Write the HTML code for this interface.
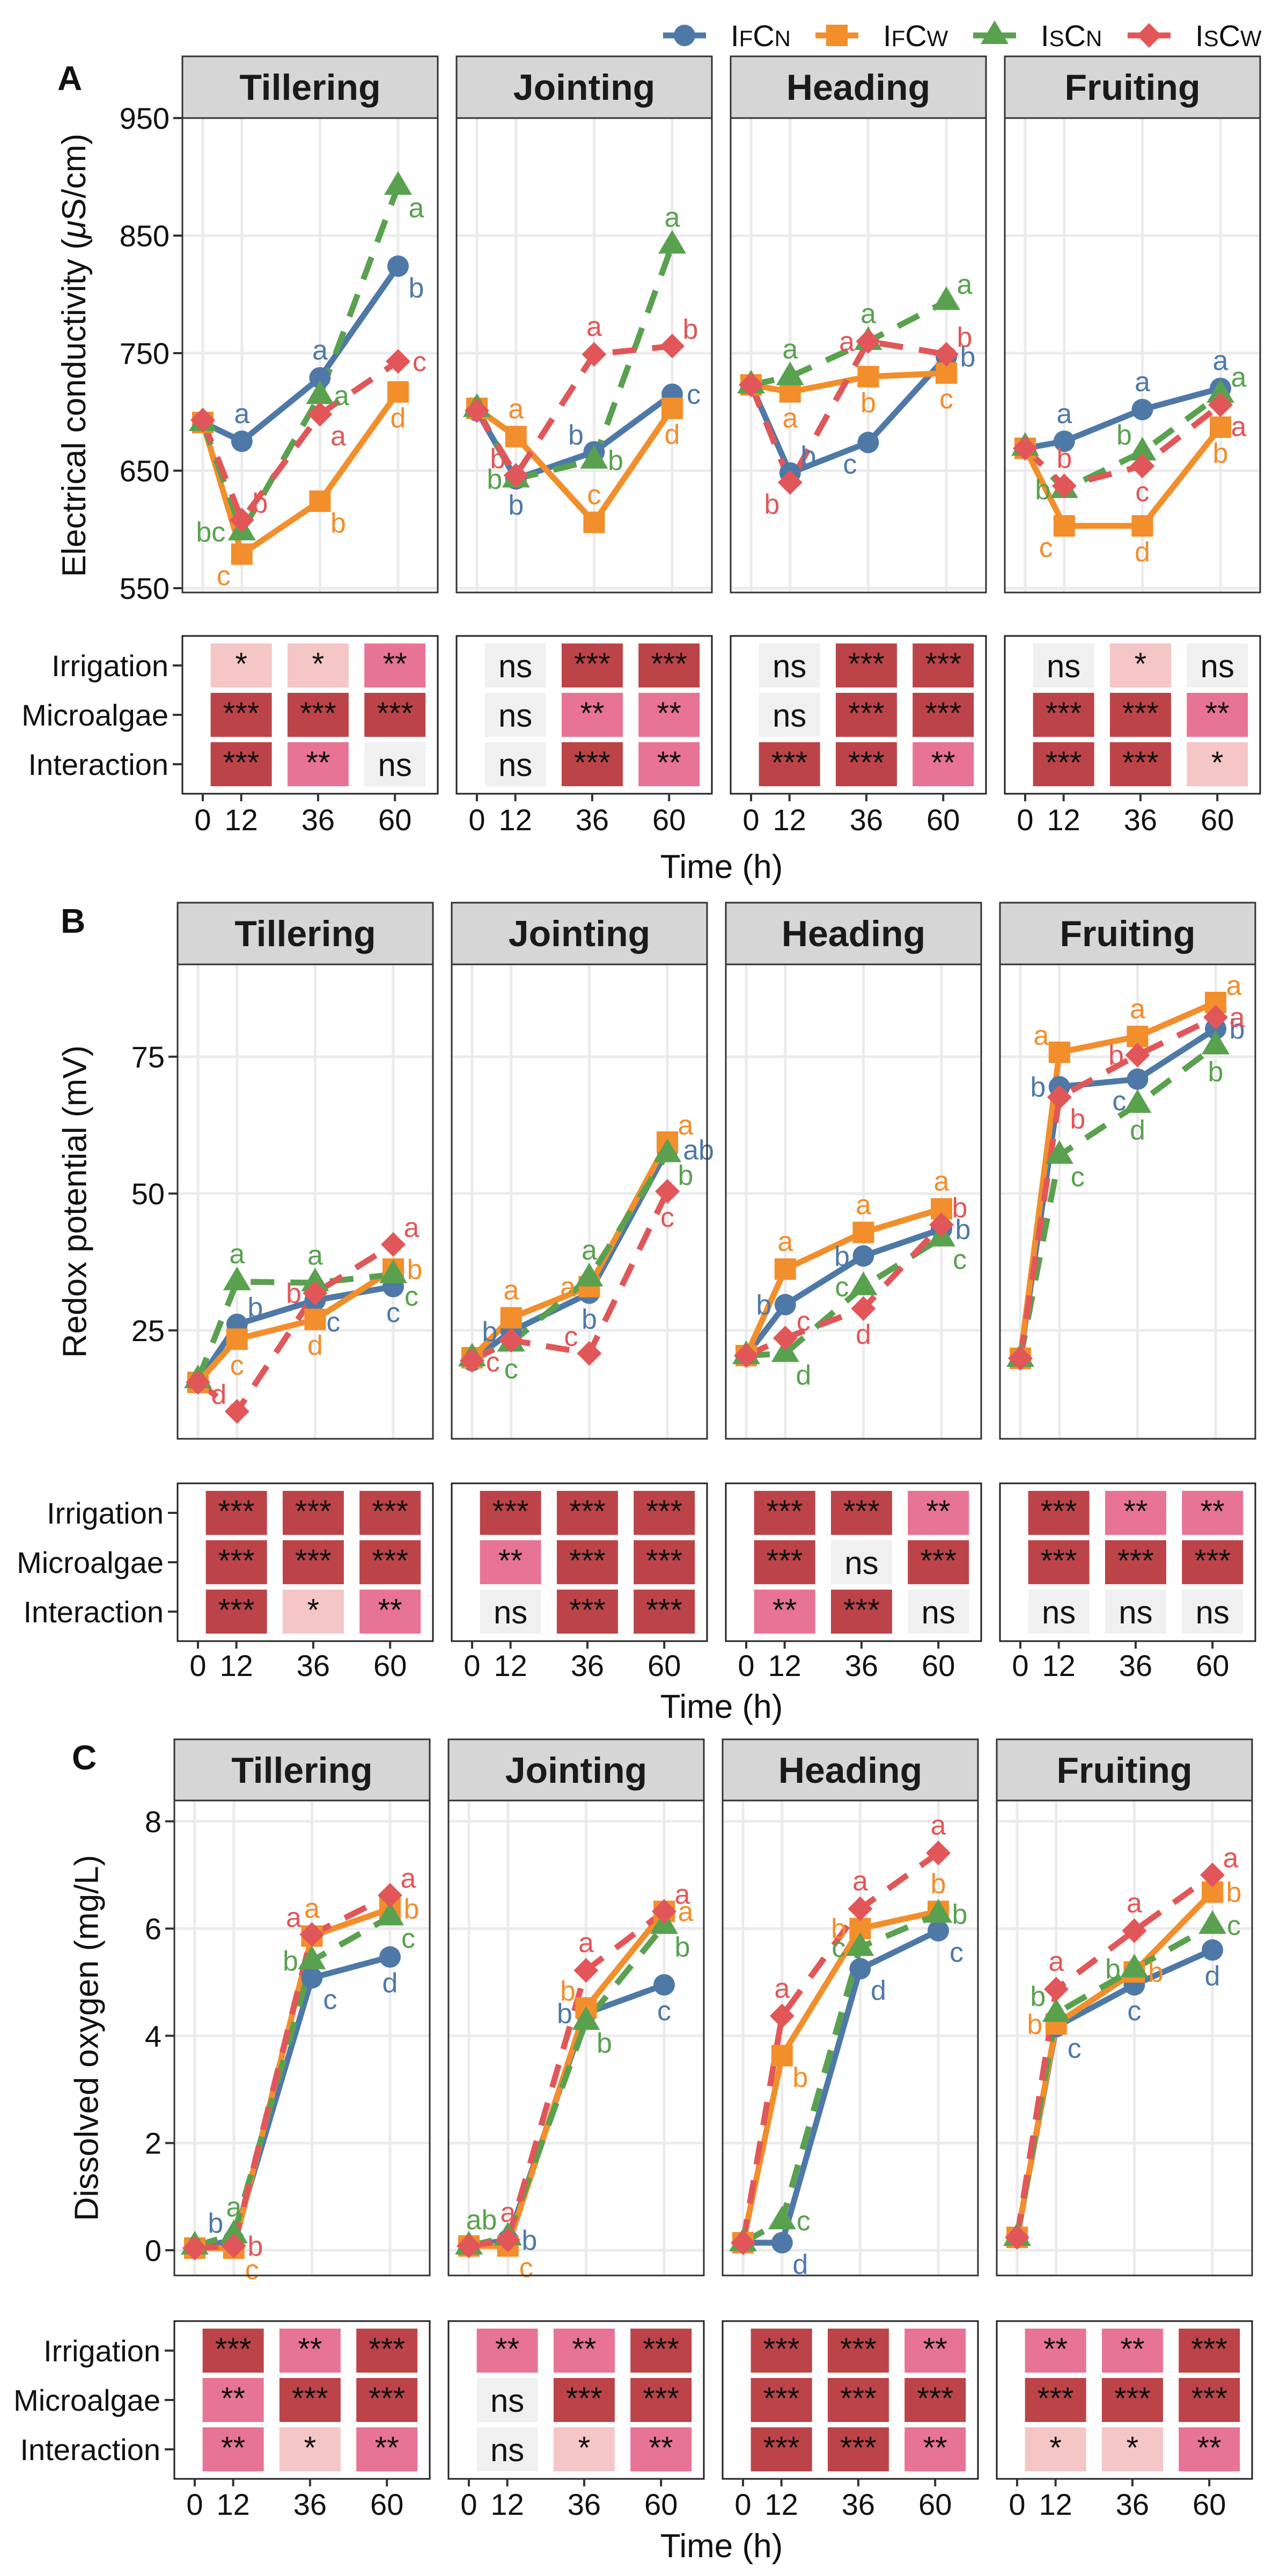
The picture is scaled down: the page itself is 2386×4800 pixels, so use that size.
<!DOCTYPE html>
<html>
<head>
<meta charset="utf-8">
<style>
html,body{margin:0;padding:0;background:#fff;}
svg{display:block;}
text{font-family:"Liberation Sans",Arial,sans-serif;}
</style>
</head>
<body>
<svg id="fig" width="2386" height="4800" viewBox="0 0 2386 4800" xmlns="http://www.w3.org/2000/svg"></svg>
<script>
// ---------- data ----------
const stages = ['Tillering','Jointing','Heading','Fruiting'];
const times = [0,12,36,60];
const seriesNames = ['IFCN','IFCW','ISCN','ISCW'];
const sigRows = ['Irrigation','Microalgae','Interaction'];

// Panel A: electrical conductivity (stage x time)
const ecIFCN = [[691,675,729,824],[701,643,666,715],[723,648,674,747],[669,675,702,720]];
const ecIFCW = [[691,579,624,717],[703,679,606,703],[723,717,730,733],[669,603,603,687]];
const ecISCN = [[691,598,714,892],[703,643,659,842],[723,730,760,794],[670,634,666,715]];
const ecISCW = [[693,608,698,743],[701,646,749,756],[723,640,760,749],[669,637,654,706]];
const ecTicks = [550,650,750,850,950];
const ecLetIFCN = [['a','a','b'],['b','b','c'],['b','c','b'],['a','a','a']];
const ecLetIFCW = [['c','b','d'],['a','c','d'],['a','b','c'],['c','d','b']];
const ecLetISCN = [['bc','a','a'],['b','b','a'],['a','a','a'],['b','b','a']];
const ecLetISCW = [['b','a','c'],['b','a','b'],['b','a','b'],['b','c','a']];
const ecPosIFCN = [['n','n','se'],['s','nw','e'],['ne','sw','e'],['n','n','n']];
const ecPosIFCW = [['sw','se','s'],['n','n','s'],['s','s','s'],['sw','s','s']];
const ecPosISCN = [['w','e','se'],['w','e','n'],['n','n','ne'],['w','nw','ne']];
const ecPosISCW = [['ne','se','e'],['nw','n','ne'],['sw','w','ne'],['n','s','se']];
const ecSig = [
 [['*','*','**'],['***','***','***'],['***','**','ns']],
 [['ns','***','***'],['ns','**','**'],['ns','***','**']],
 [['ns','***','***'],['ns','***','***'],['***','***','**']],
 [['ns','*','ns'],['***','***','**'],['***','***','*']]
];

// Panel B: redox potential
const ehIFCN = [[15.5,26.1,30.5,33],[19.5,24.8,31.8,58],[20.4,29.7,38.6,43.5],[19.9,69.5,70.9,80.1]];
const ehIFCW = [[15.5,23.4,27,36.2],[20,27.3,33,59.4],[20.4,36.2,42.9,47.2],[19.9,75.8,78.7,84.9]];
const ehISCN = [[16,33.9,33.7,35.2],[20,22.7,34.6,57.3],[20.4,20.8,33,41.9],[19.9,57,66.3,77]];
const ehISCW = [[15.5,10.2,31.8,40.7],[19.5,23.2,20.8,50.4],[20.4,23.6,29,44.3],[19.9,67.6,75.3,82.2]];
const ehTicks = [25,50,75];
const ehLetIFCN = [['b','c','c'],['b','b','ab'],['b','b','b'],['b','c','b']];
const ehLetIFCW = [['c','d','b'],['a','a','a'],['a','a','a'],['a','a','a']];
const ehLetISCN = [['a','a','c'],['c','a','b'],['d','c','c'],['c','d','b']];
const ehLetISCW = [['d','b','a'],['c','c','c'],['c','d','b'],['b','b','a']];
const ehPosIFCN = [['ne','se','s'],['w','s','e'],['w','w','e'],['w','sw','e']];
const ehPosIFCW = [['s','s','e'],['n','w','ne'],['n','n','n'],['nw','n','ne']];
const ehPosISCN = [['n','n','se'],['s','n','se'],['se','w','se'],['se','s','s']];
const ehPosISCW = [['nw','w','ne'],['sw','nw','s'],['ne','s','ne'],['se','w','e']];
const ehSig = [
 [['***','***','***'],['***','***','***'],['***','*','**']],
 [['***','***','***'],['**','***','***'],['ns','***','***']],
 [['***','***','**'],['***','ns','***'],['**','***','ns']],
 [['***','**','**'],['***','***','***'],['ns','ns','ns']]
];

// Panel C: dissolved oxygen
const doIFCN = [[0.04,0.19,5.08,5.47],[0.08,0.19,4.42,4.95],[0.14,0.14,5.25,5.96],[0.24,4.17,4.95,5.6]];
const doIFCW = [[0.04,0.04,5.86,6.37],[0.08,0.08,4.52,6.32],[0.14,3.63,6.0,6.32],[0.24,4.22,5.19,6.68]];
const doISCN = [[0.08,0.29,5.4,6.22],[0.08,0.25,4.27,6.06],[0.14,0.55,5.65,6.27],[0.24,4.42,5.25,6.06]];
const doISCW = [[0.04,0.08,5.89,6.62],[0.08,0.19,5.22,6.32],[0.14,4.37,6.37,7.41],[0.24,4.87,5.96,7.0]];
const doTicks = [0,2,4,6,8];
const doLetIFCN = [['b','c','d'],['b','b','c'],['d','d','c'],['c','c','d']];
const doLetIFCW = [['c','a','b'],['c','b','a'],['b','b','b'],['b','b','b']];
const doLetISCN = [['a','b','c'],['ab','b','b'],['c','c','b'],['b','b','c']];
const doLetISCW = [['b','a','a'],['a','a','a'],['a','a','a'],['a','a','a']];
const doPosIFCN = [['nw','se','s'],['e','w','s'],['se','se','se'],['se','s','s']];
const doPosIFCW = [['se','n','e'],['se','nw','e'],['se','w','n'],['w','e','e']];
const doPosISCN = [['n','w','se'],['nw','se','se'],['e','w','e'],['nw','w','e']];
const doPosISCW = [['e','nw','ne'],['n','n','ne'],['n','n','n'],['n','n','ne']];
const doSig = [
 [['***','**','***'],['**','***','***'],['**','*','**']],
 [['**','**','***'],['ns','***','***'],['ns','*','**']],
 [['***','***','**'],['***','***','***'],['***','***','**']],
 [['**','**','***'],['***','***','***'],['*','*','**']]
];

// ---------- styling ----------
const COLORS = ['#4e79a7','#f28e2b','#59a14f','#e15759'];
const DASHED = [false,false,true,true];
const SIGCOL = {'***':'#bc4449','**':'#e77495','*':'#f5c6c6','ns':'#f0f0f0'};
const OFF = {n:[0,-34],s:[0,66],e:[40,18],w:[-40,18],ne:[34,-14],nw:[-34,-14],se:[34,58],sw:[-34,58]};

const NS = 'http://www.w3.org/2000/svg';
const svg = document.getElementById('fig');
function mk(tag, attrs, parent){
  const e = document.createElementNS(NS, tag);
  for (const k in attrs) e.setAttribute(k, attrs[k]);
  (parent||svg).appendChild(e);
  return e;
}

function marker(g, k, cx, cy){
  let e;
  if (k===0){ e = mk('circle',{cx:cx,cy:cy,r:20,fill:COLORS[0]},g); }
  else if (k===1){ e = mk('rect',{x:cx-20,y:cy-20,width:40,height:40,fill:COLORS[1]},g); }
  else if (k===2){ e = mk('polygon',{points:`${cx},${cy-28} ${cx+26},${cy+16} ${cx-26},${cy+16}`,fill:COLORS[2]},g); }
  else { e = mk('polygon',{points:`${cx},${cy-23} ${cx+23},${cy} ${cx},${cy+23} ${cx-23},${cy}`,fill:COLORS[3]},g); }
  return e;
}

const sections = [
  {id:'a', letter:'A', letterX:107, letterY:168, lefts:[340,851,1362,1873], stripTop:105, plotTop:220, plotBottom:1104,
   y:v=>220+(950-v)*2.19, ticks:ecTicks, data:[ecIFCN,ecIFCW,ecISCN,ecISCW], lets:[ecLetIFCN,ecLetIFCW,ecLetISCN,ecLetISCW],
   pos:[ecPosIFCN,ecPosIFCW,ecPosISCN,ecPosISCW], sig:ecSig, tableTop:1185, tickLabY:1547, timeY:1636, titleX:138, title:'ecTitle'},
  {id:'b', letter:'B', letterX:113, letterY:1738, lefts:[331,842,1353,1864], stripTop:1682, plotTop:1797, plotBottom:2681,
   y:v=>2479-(v-25)*10.2, ticks:ehTicks, data:[ehIFCN,ehIFCW,ehISCN,ehISCW], lets:[ehLetIFCN,ehLetIFCW,ehLetISCN,ehLetISCW],
   pos:[ehPosIFCN,ehPosIFCW,ehPosISCN,ehPosISCW], sig:ehSig, tableTop:2764, tickLabY:3123, timeY:3201, titleX:140, title:'Redox potential (mV)'},
  {id:'c', letter:'C', letterX:134, letterY:3297, lefts:[325,836,1347,1858], stripTop:3241, plotTop:3355, plotBottom:4240,
   y:v=>4193-v*99.9, ticks:doTicks, data:[doIFCN,doIFCW,doISCN,doISCW], lets:[doLetIFCN,doLetIFCW,doLetISCN,doLetISCW],
   pos:[doPosIFCN,doPosIFCW,doPosISCN,doPosISCW], sig:doSig, tableTop:4325, tickLabY:4686, timeY:4765, titleX:162, title:'Dissolved oxygen (mg/L)'}
];
const PW = 476;
const X0 = 38, XS = 6.067, TXS = 5.97;

// ---------- legend ----------
const legend = mk('g',{});


const legX = [1236,1520,1814,2102];
const legTxt = [['I','F','C','N'],['I','F','C','W'],['I','S','C','N'],['I','S','C','W']];
seriesNames.forEach((s,k)=>{
  const g = mk('g',{},legend);
  
  
  mk('line',{x1:legX[k],y1:66,x2:legX[k]+80,y2:66,stroke:COLORS[k],'stroke-width':11},g);
  marker(g,k,legX[k]+40,66);
  const t = mk('text',{x:legX[k]+126,y:86,'font-size':56,fill:'#111'},g);
  legTxt[k].forEach((ch,i)=>{
    const sp = mk('tspan',{'font-size': (i%2===0)?56:42},t);
    sp.textContent = ch;
  });
});

// ---------- sections ----------
sections.forEach(sec=>{
  const sg = mk('g',{});
  
  

  const lt = mk('text',{x:sec.letterX,y:sec.letterY,'font-size':64,'font-weight':'bold',fill:'#111'},sg);
  
  
  lt.textContent = sec.letter;

  // y-axis title
  const cy = (sec.plotTop+sec.plotBottom)/2;
  const yt = mk('text',{x:sec.titleX,y:cy,'font-size':62,fill:'#111','text-anchor':'middle','dominant-baseline':'central',transform:`rotate(-90 ${sec.titleX} ${cy})`},sg);
  
  
  if (sec.title==='ecTitle'){
    const a = mk('tspan',{},yt); a.textContent='Electrical conductivity (';
    const b = mk('tspan',{'font-style':'italic'},yt); b.textContent='\u03bc';
    const c = mk('tspan',{},yt); c.textContent='S/cm)';
  } else yt.textContent = sec.title;

  // y tick labels (left panel only)
  const L0 = sec.lefts[0];
  sec.ticks.forEach(v=>{
    const yy = sec.y(v);
    const tk = mk('line',{x1:L0-17,y1:yy,x2:L0,y2:yy,stroke:'#333','stroke-width':4},sg);
    
    
    const tl = mk('text',{x:L0-24,y:yy+20,'font-size':56,fill:'#111','text-anchor':'end'},sg);
    
    
    tl.textContent = v;
  });

  stages.forEach((st,si)=>{
    const L = sec.lefts[si];
    const pg = mk('g',{},sg);
    
    
    const xs = t=>L+X0+t*XS;

    // strip
    const sr = mk('rect',{x:L,y:sec.stripTop,width:PW,height:sec.plotTop-sec.stripTop,fill:'#d6d6d6',stroke:'#333','stroke-width':3},pg);
    
    
    const stx = mk('text',{x:L+PW/2,y:sec.stripTop+81,'font-size':68,'font-weight':'bold',fill:'#1a1a1a','text-anchor':'middle'},pg);
    
    
    stx.textContent = st;

    // grid
    mk('rect',{x:L,y:sec.plotTop,width:PW,height:sec.plotBottom-sec.plotTop,fill:'#fff'},pg);
    sec.ticks.forEach(v=>{
      const yy = sec.y(v);
      if (yy>sec.plotTop+2 && yy<sec.plotBottom){
        const gl = mk('line',{x1:L,y1:yy,x2:L+PW,y2:yy,stroke:'#ebebeb','stroke-width':5},pg);
        
        
      }
    });
    times.forEach(t=>{
      const gl = mk('line',{x1:xs(t),y1:sec.plotTop,x2:xs(t),y2:sec.plotBottom,stroke:'#ebebeb','stroke-width':5},pg);
      
      
    });

    // lines
    sec.data.forEach((ser,k)=>{
      const pts = ser[si].map((v,i)=>xs(times[i])+','+sec.y(v)).join(' ');
      const pl = mk('polyline',{points:pts,fill:'none',stroke:COLORS[k],'stroke-width':11,'stroke-linejoin':'round'},pg);
      if (DASHED[k]) pl.setAttribute('stroke-dasharray','44 30');
      
      
    });
    // points
    sec.data.forEach((ser,k)=>{
      ser[si].forEach((v,i)=>{
        const m = marker(pg,k,xs(times[i]),sec.y(v));
        
        
      });
    });
    // letters
    sec.lets.forEach((ls,k)=>{
      ls[si].forEach((lab,i)=>{
        const v = sec.data[k][si][i+1];
        const o = OFF[sec.pos[k][si][i]];
        let dx = o[0];
        if (lab.length>1) dx = dx*1.45;
        const tx = mk('text',{x:xs(times[i+1])+dx,y:sec.y(v)+o[1],'font-size':52,fill:COLORS[k],'text-anchor':'middle'},pg);
        
        
        tx.textContent = lab;
      });
    });
    // border
    const br = mk('rect',{x:L,y:sec.plotTop,width:PW,height:sec.plotBottom-sec.plotTop,fill:'none',stroke:'#333','stroke-width':3},pg);
    
    

    // significance table
    const tg = mk('g',{},sg);
    
    
    const TT = sec.tableTop, TH = 294;
    const xt = t=>L+X0+t*TXS;
    mk('rect',{x:L,y:TT,width:PW,height:TH,fill:'#fff'},tg);
    sigRows.forEach((rn,ri)=>{
      const rc = TT+55+ri*92;
      sec.sig[si][ri].forEach((val,ci)=>{
        const cx = xt(times[ci+1]);
        const cell = mk('rect',{x:cx-57,y:rc-41,width:114,height:82,fill:SIGCOL[val]},tg);
        
        
        const ct = mk('text',{x:cx,y:rc+(val==='ns'?22:17),'font-size':val==='ns'?60:58,fill:'#111','text-anchor':'middle'},tg);
        
        
        ct.textContent = val;
      });
      if (si===0){
        const rt = mk('line',{x1:L-18,y1:rc,x2:L,y2:rc,stroke:'#333','stroke-width':4},sg);
        
        
        const rl = mk('text',{x:L-26,y:rc+20,'font-size':56,fill:'#111','text-anchor':'end'},sg);
        
        
        rl.textContent = rn;
      }
    });
    mk('rect',{x:L,y:TT,width:PW,height:TH,fill:'none',stroke:'#222','stroke-width':3},tg);
    times.forEach(t=>{
      const xt0 = xt(t);
      const tk = mk('line',{x1:xt0,y1:TT+TH,x2:xt0,y2:TT+TH+14,stroke:'#333','stroke-width':4},tg);
      
      
      const tl = mk('text',{x:xt0,y:sec.tickLabY,'font-size':56,fill:'#111','text-anchor':'middle'},tg);
      
      
      tl.textContent = t;
    });
  });

  const tt = mk('text',{x:1345,y:sec.timeY,'font-size':62,fill:'#111','text-anchor':'middle'},sg);
  
  
  tt.textContent = 'Time (h)';
});
</script>
</body>
</html>
